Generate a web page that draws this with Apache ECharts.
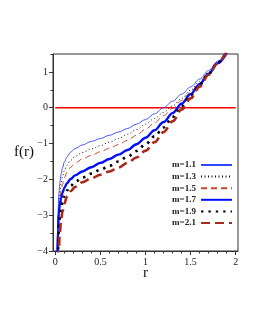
<!DOCTYPE html>
<html><head><meta charset="utf-8">
<script src="https://cdn.jsdelivr.net/npm/echarts@6/dist/echarts.min.js"></script>
<style>html,body{margin:0;padding:0;background:#fff}#c{width:258px;height:333px}</style>
</head><body><div id="c"></div>
<script>
const legendNames = ['m=1.1','m=1.3','m=1.5','m=1.7','m=1.9','m=2.1'];
const r = [0.018,0.022,0.03,0.04,0.05,0.065,0.08,0.1,0.13,0.17,0.22,0.3,0.4,0.5,0.6,0.7,0.8,0.9,1.0,1.1,1.2,1.3,1.4,1.5,1.6,1.7,1.8,1.9];
const m11 = [-4.6,-3.8,-2.95,-2.4,-2.1,-1.85,-1.68,-1.52,-1.37,-1.24,-1.14,-1.04,-0.94,-0.86,-0.77,-0.68,-0.58,-0.46,-0.33,-0.17,0.0,0.18,0.38,0.58,0.8,1.04,1.3,1.58];
const m13 = [-4.8,-4.1,-3.2,-2.7,-2.38,-2.1,-1.92,-1.76,-1.6,-1.47,-1.36,-1.25,-1.15,-1.06,-0.96,-0.86,-0.74,-0.61,-0.46,-0.3,-0.13,0.05,0.26,0.49,0.73,0.99,1.27,1.55];
const m15 = [-5.0,-4.3,-3.4,-2.9,-2.6,-2.32,-2.13,-1.96,-1.8,-1.66,-1.55,-1.43,-1.33,-1.23,-1.13,-1.03,-0.91,-0.77,-0.6,-0.42,-0.22,-0.02,0.2,0.44,0.69,0.96,1.24,1.54];
const m17 = [-5.2,-4.5,-3.4,-2.95,-2.72,-2.52,-2.38,-2.24,-2.11,-1.99,-1.89,-1.78,-1.66,-1.54,-1.43,-1.31,-1.18,-1.02,-0.84,-0.63,-0.4,-0.15,0.11,0.38,0.66,0.95,1.24,1.53];
const m19 = [-5.6,-5.0,-4.0,-3.4,-3.1,-2.82,-2.64,-2.47,-2.31,-2.18,-2.07,-1.95,-1.84,-1.73,-1.62,-1.5,-1.37,-1.21,-1.02,-0.8,-0.55,-0.26,0.04,0.34,0.64,0.95,1.26,1.58];
const m21 = [-6.2,-5.5,-4.6,-3.9,-3.5,-3.13,-2.9,-2.68,-2.48,-2.33,-2.21,-2.08,-1.97,-1.87,-1.78,-1.67,-1.54,-1.39,-1.2,-0.96,-0.68,-0.38,-0.05,0.26,0.59,0.92,1.25,1.58];
const zeroX = [0, 2];
const zeroY = [0, 0];
const xTickLabels = [0, 0.5, 1, 1.5, 2];
const xMinorTicks = [0.1,0.2,0.3,0.4,0.6,0.7,0.8,0.9,1.1,1.2,1.3,1.4,1.6,1.7,1.8,1.9];
const yTickLabels = [-4, -3, -2, -1, 0, 1];
const yMinorTicks = [-3.5,-2.5,-1.5,-0.5,0.5,1.5];

const pairs = (xs, ys) => xs.map((x, i) => [x, ys[i]]);
const seriesVals = [m11, m13, m15, m17, m19, m21];
const styles = [
  {color:'#3346ff', width:0.9, type:'solid'},
  {color:'#111111', width:1, type:[1,2.5]},
  {color:'#c8442a', width:1, type:[6,4]},
  {color:'#0010ff', width:2.4, type:'solid'},
  {color:'#000000', width:2.6, type:[2.4,5]},
  {color:'#a8281c', width:2.6, type:[9,5]}
];
const serif = 'Liberation Serif, DejaVu Serif, serif';
const fmt = v => String(v).replace('-', '\u2212');

const series = legendNames.map((name, i) => ({
  name, type:'line', xAxisIndex:0, yAxisIndex:0,
  data: pairs(r, seriesVals[i]), showSymbol:false, symbol:'none',
  smooth:0.35, smoothMonotone:'x', clip:true,
  lineStyle:{color:styles[i].color, width:styles[i].width, type:styles[i].type},
  itemStyle:{color:styles[i].color}, z: 3
}));
series.unshift({
  name:'zero', type:'line', data: pairs(zeroX, zeroY), symbol:'none',
  lineStyle:{color:'#ff0000', width:1.3}, z:2, silent:true
});

const chart = echarts.init(document.getElementById('c'), null, {renderer:'canvas'});
chart.setOption({
  animation:false,
  grid:{left:53, top:54, width:185, height:197, show:true, borderColor:'#333', borderWidth:1, containLabel:false},
  xAxis:[{
    type:'value', min:-0.025, max:2.025, gridIndex:0, position:'bottom',
    axisLine:{show:true, onZero:false, lineStyle:{color:'#333', width:1}},
    axisTick:{show:true, customValues:xTickLabels, length:4, inside:false, lineStyle:{color:'#333'}},
    axisLabel:{show:true, customValues:xTickLabels, margin:6, fontFamily:serif, fontSize:10, color:'#222', formatter:fmt},
    splitLine:{show:false}
  },{
    type:'value', min:-0.025, max:2.025, gridIndex:0, position:'bottom',
    axisLine:{show:false, onZero:false},
    axisTick:{show:true, customValues:xMinorTicks, length:2.5, lineStyle:{color:'#333'}},
    axisLabel:{show:false}, splitLine:{show:false}
  }],
  yAxis:[{
    type:'value', min:-4, max:1.5, gridIndex:0, position:'left',
    axisLine:{show:true, onZero:false, lineStyle:{color:'#333', width:1}},
    axisTick:{show:true, customValues:yTickLabels, length:4, lineStyle:{color:'#333'}},
    axisLabel:{show:true, customValues:yTickLabels, margin:5, fontFamily:serif, fontSize:10, color:'#222', formatter:fmt},
    splitLine:{show:false}
  },{
    type:'value', min:-4, max:1.5, gridIndex:0, position:'left',
    axisLine:{show:false, onZero:false},
    axisTick:{show:true, customValues:yMinorTicks, length:2.5, lineStyle:{color:'#333'}},
    axisLabel:{show:false}, splitLine:{show:false}
  }],
  legend:{
    data:legendNames, orient:'vertical', align:'right', right:25, top:160,
    padding:0, itemWidth:31, itemHeight:10, itemGap:1.6,
    itemStyle:{opacity:0},
    textStyle:{fontFamily:serif, fontSize:9, fontWeight:'bold', color:'#222', lineHeight:10}
  },
  graphic:[
    {type:'text', x:24, y:152.5, style:{text:'f(r)', font:'15px ' + serif, fill:'#111', textAlign:'center', textVerticalAlign:'middle'}},
    {type:'text', x:145.5, y:273.5, style:{text:'r', font:'15px ' + serif, fill:'#111', textAlign:'center', textVerticalAlign:'middle'}}
  ],
  series
});
</script></body></html>
